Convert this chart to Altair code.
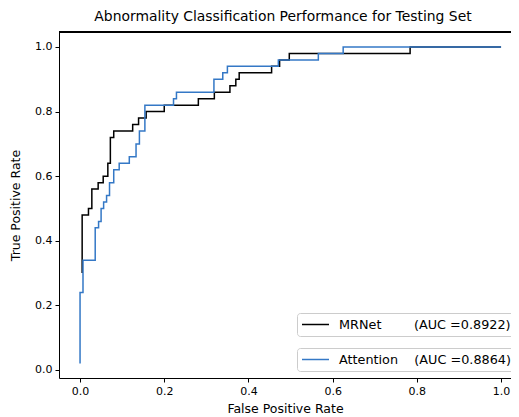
import altair as alt
import pandas as pd

# ---- data ----
mrnet_fpr = [0.005, 0.005, 0.020, 0.028, 0.043, 0.055, 0.066, 0.072, 0.080, 0.125, 0.139,
             0.157, 0.200, 0.281, 0.319, 0.356, 0.370, 0.378, 0.455, 0.474, 0.497, 0.784, 1.000]
mrnet_tpr = [0.30, 0.48, 0.50, 0.56, 0.58, 0.60, 0.64, 0.72, 0.74, 0.76, 0.78,
             0.80, 0.82, 0.84, 0.86, 0.88, 0.90, 0.92, 0.94, 0.96, 0.98, 1.00, 1.00]

att_fpr = [0.000, 0.000, 0.007, 0.036, 0.044, 0.050, 0.056, 0.063, 0.070, 0.080, 0.093,
           0.117, 0.133, 0.141, 0.154, 0.222, 0.229, 0.318, 0.339, 0.350, 0.471, 0.566, 0.625, 1.000]
att_tpr = [0.02, 0.24, 0.34, 0.44, 0.46, 0.50, 0.52, 0.54, 0.58, 0.62, 0.64,
           0.66, 0.70, 0.74, 0.82, 0.84, 0.86, 0.90, 0.92, 0.94, 0.96, 0.98, 1.00, 1.00]

series_names = ["MRNet", "Attention"]
auc_values = ["0.8922", "0.8864"]
label_gaps = [8, 4]
series_colors = ["#000000", "#3478c6"]

x_ticks = [0.0, 0.2, 0.4, 0.6, 0.8, 1.0]
y_ticks = [0.0, 0.2, 0.4, 0.6, 0.8, 1.0]

title_text = "Abnormality Classification Performance for Testing Set"
x_title = "False Positive Rate"
y_title = "True Positive Rate"

# ---- build tables ----
labels = [n + "\u00a0" * g + "(AUC =" + a + ")" for n, a, g in zip(series_names, auc_values, label_gaps)]

df_m = pd.DataFrame({"fpr": mrnet_fpr, "tpr": mrnet_tpr,
                     "idx": list(range(len(mrnet_fpr))), "model": labels[0]})
df_a = pd.DataFrame({"fpr": att_fpr, "tpr": att_tpr,
                     "idx": list(range(len(att_fpr))), "model": labels[1]})

W, H = 452, 346
PX_PER_X = 421.0
xdom = [-0.05, -0.05 + W / PX_PER_X]
ydom = [-0.0248, 1.0464]

FONT = "DejaVu Sans"

x_enc = alt.X("fpr:Q", scale=alt.Scale(domain=xdom, nice=False, zero=False),
              axis=alt.Axis(values=x_ticks, format=".1f", title=x_title, titlePadding=6))
y_enc = alt.Y("tpr:Q", scale=alt.Scale(domain=ydom, nice=False, zero=False),
              axis=alt.Axis(values=y_ticks, format=".1f", title=y_title, titlePadding=12))


def legend_for(ly):
    return alt.Legend(orient="none", legendX=238, legendY=ly, title=None,
                      symbolType="M-2,0H2", symbolSize=182, symbolStrokeWidth=1.5,
                      strokeColor="#cccccc", fillColor="white", padding=4, cornerRadius=3,
                      labelFont=FONT, labelFontSize=12.8, labelColor="black",
                      symbolOffset=7, labelOffset=16, labelLimit=400)


line_m = alt.Chart(df_m).mark_line(interpolate="step-after", strokeWidth=1.5, clip=True).encode(
    x=x_enc, y=y_enc, order="idx:Q",
    color=alt.Color("model:N", scale=alt.Scale(domain=[labels[0]], range=[series_colors[0]]),
                    legend=legend_for(281)))

line_a = alt.Chart(df_a).mark_line(interpolate="step-after", strokeWidth=1.5, clip=True).encode(
    x=x_enc, y=y_enc, order="idx:Q",
    color=alt.Color("model:N", scale=alt.Scale(domain=[labels[1]], range=[series_colors[1]]),
                    legend=legend_for(316)))

top_border = alt.Chart(df_m).mark_rule(color="black", strokeWidth=1).encode(
    x=alt.value(0), x2=alt.value(W), y=alt.value(0))

chart = alt.layer(line_m, line_a, top_border).resolve_scale(color="independent").properties(
    width=W, height=H,
    title=alt.TitleParams(text=title_text, font=FONT, fontSize=13.9, fontWeight="normal",
                          color="black", anchor="middle", offset=8, dx=-2),
    autosize=alt.AutoSizeParams(type="none"),
    padding={"left": 51, "top": 24, "right": 0, "bottom": 39},
    background="white",
).configure_view(stroke=None).configure_axis(
    grid=False, domainColor="black", domainWidth=1, tickColor="black", tickSize=4,
    labelFont=FONT, labelFontSize=11, labelColor="black", labelPadding=3,
    titleFont=FONT, titleFontSize=12.5, titleFontWeight="normal", titleColor="black",
)

chart.save("out.html", embed_options={"renderer": "svg", "actions": False})
